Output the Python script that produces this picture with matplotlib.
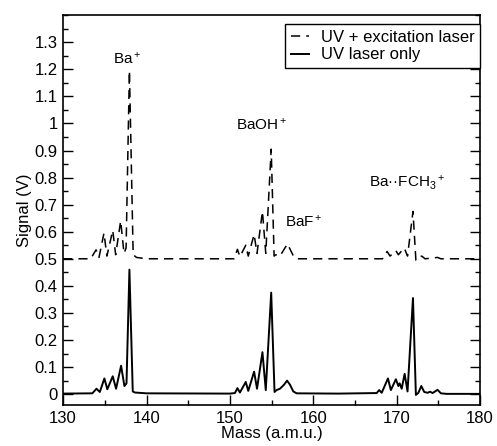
import matplotlib
matplotlib.use("Agg")
import matplotlib.pyplot as plt
from matplotlib.ticker import MultipleLocator
import numpy as np

plt.rcParams["font.family"] = ["Liberation Sans", "DejaVu Sans"]
plt.rcParams["mathtext.fontset"] = "custom"
plt.rcParams["mathtext.rm"] = "Liberation Sans"
plt.rcParams["mathtext.it"] = "Liberation Sans"

# UV laser only (solid), vertices
uv_mass = [130, 133.5, 134.0, 134.4, 134.95, 135.3, 135.95, 136.35, 136.95, 137.35,
           137.6, 137.95, 138.35, 138.6, 140, 150, 150.6, 150.9, 151.2, 151.9,
           152.2, 152.9, 153.25, 153.9, 154.3, 154.95, 155.35, 155.6, 156.0, 156.5,
           156.85, 157.2, 157.6, 158, 163, 167.6, 167.9, 168.2, 168.95, 169.3,
           169.9, 170.2, 170.35, 170.6, 170.95, 171.3, 171.95, 172.3, 172.6, 172.95,
           173.3, 173.7, 174.0, 174.3, 174.9, 175.3, 176, 180]
uv_sig = [0.002, 0.003, 0.02, 0.008, 0.058, 0.018, 0.066, 0.02, 0.105, 0.03,
          0.04, 0.46, 0.01, 0.006, 0.003, 0.002, 0.004, 0.022, 0.006, 0.045,
          0.012, 0.083, 0.02, 0.155, 0.015, 0.375, 0.008, 0.015, 0.02, 0.035,
          0.05, 0.035, 0.01, 0.003, 0.002, 0.004, 0.015, 0.005, 0.058, 0.015,
          0.055, 0.03, 0.04, 0.02, 0.075, 0.01, 0.355, -0.003, 0.005, 0.03,
          0.008, 0.005, 0.009, 0.004, 0.016, 0.003, 0.001, 0.001]

# UV + excitation laser (dashed, offset by 0.5 V)
exc_mass = [130, 133.3, 133.95, 134.3, 134.9, 135.25, 135.95, 136.3, 136.9, 137.3,
            137.55, 137.95, 138.4, 138.8, 140, 150.5, 150.9, 151.2, 151.9, 152.2,
            152.9, 153.25, 153.9, 154.3, 154.95, 155.3, 155.5, 156.0, 156.9, 157.3,
            157.7, 158.2, 168.3, 168.85, 169.2, 169.9, 170.2, 170.9, 171.3, 171.95,
            172.3, 172.6, 173.0, 173.4, 174.9, 175.3, 180]
exc_sig = [0.5, 0.5, 0.533, 0.505, 0.595, 0.51, 0.605, 0.515, 0.64, 0.52,
           0.54, 1.195, 0.515, 0.505, 0.5, 0.5, 0.535, 0.508, 0.55, 0.51,
           0.59, 0.52, 0.675, 0.52, 0.905, 0.51, 0.515, 0.51, 0.555, 0.53,
           0.505, 0.5, 0.5, 0.527, 0.51, 0.53, 0.515, 0.54, 0.51, 0.675,
           0.495, 0.505, 0.51, 0.5, 0.505, 0.5, 0.5]

peak_labels = ["Ba$^+$", "BaOH$^+$", "BaF$^+$", "Ba\u00b7\u00b7FCH$_3$$^+$"]
peak_label_x = [137.7, 153.8, 158.9, 171.2]
peak_label_y = [1.222, 0.978, 0.62, 0.763]

fig = plt.figure(figsize=(4.97, 4.46), dpi=100)
ax = fig.add_axes([0.127, 0.092, 0.839, 0.874])

ax.plot(exc_mass, exc_sig, color="black", lw=1.1, ls=(0, (6, 4)),
        label="UV + excitation laser")
ax.plot(uv_mass, uv_sig, color="black", lw=1.4, label="UV laser only")

for txt, x, y in zip(peak_labels, peak_label_x, peak_label_y):
    ax.text(x, y, txt, ha="center", va="baseline", fontsize=11)

ax.set_xlim(130, 180)
ax.set_ylim(-0.04, 1.40)
ax.set_xticks(np.arange(130, 181, 10))
yt = np.round(np.arange(0, 1.31, 0.1), 1)
ax.set_yticks(yt)
ax.set_yticklabels([f"{v:g}" for v in yt])
ax.xaxis.set_minor_locator(MultipleLocator(5))
ax.yaxis.set_minor_locator(MultipleLocator(0.05))
ax.tick_params(which="both", direction="in", right=True, top=False, labelsize=12)
ax.tick_params(which="major", length=7, width=1, pad=4)
ax.tick_params(which="minor", length=3.5, width=1)
for s in ax.spines.values():
    s.set_linewidth(1.2)

ax.set_xlabel("Mass (a.m.u.)", fontsize=12, labelpad=0)
ax.set_ylabel("Signal (V)", fontsize=12, labelpad=2)

leg = ax.legend(loc="upper right", bbox_to_anchor=(1.0, 0.977), borderaxespad=0,
                fontsize=12, fancybox=False, framealpha=1, edgecolor="black",
                handlelength=1.1, handletextpad=0.7, labelspacing=0.15,
                borderpad=0.35)
leg.get_frame().set_linewidth(1.0)

fig.savefig("out.png", dpi=100)
